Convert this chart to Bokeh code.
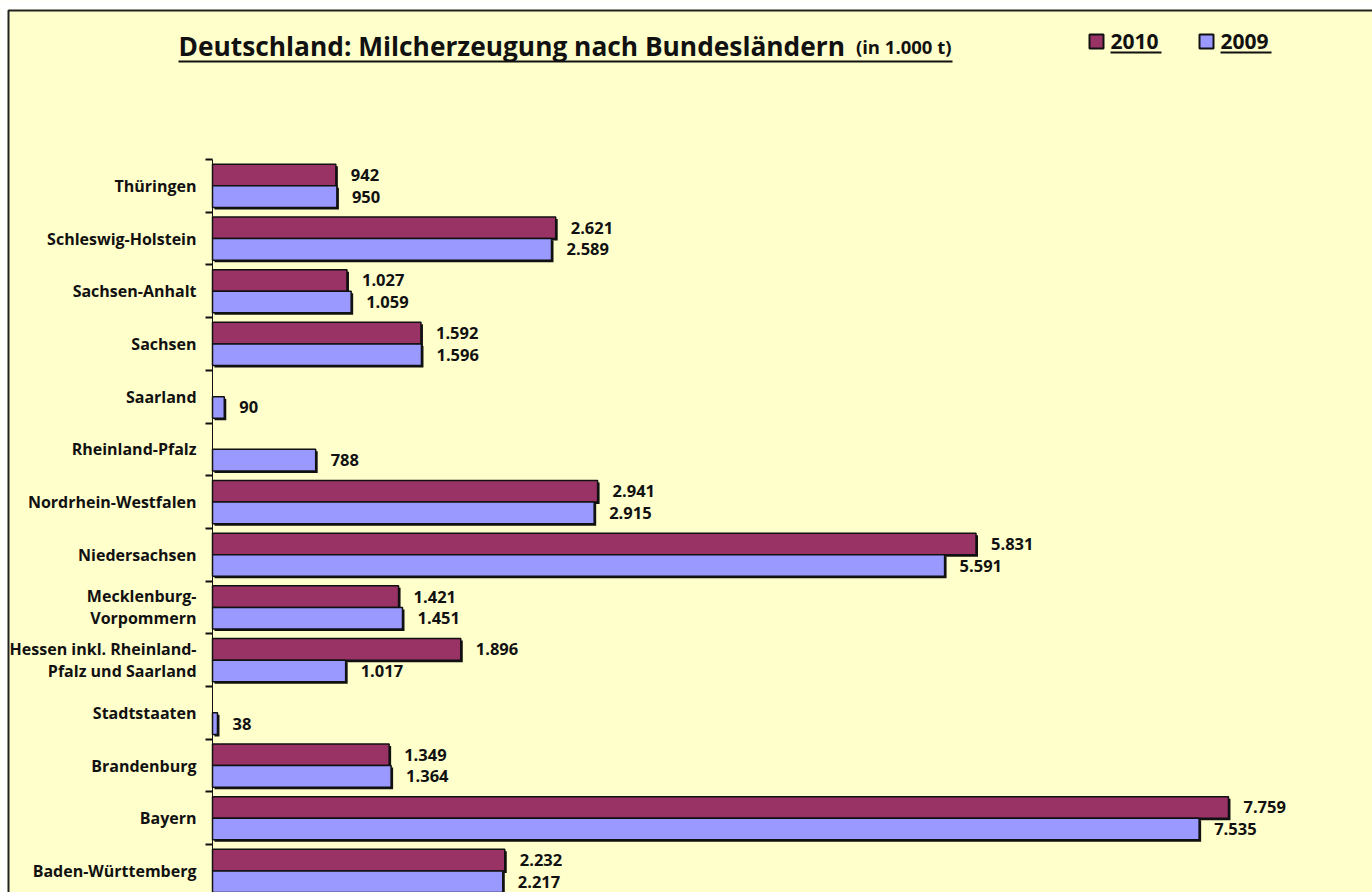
import numpy as np
from bokeh.plotting import figure
from bokeh.models import (ColumnDataSource, Range1d, LinearAxis, FixedTicker,
                          Label, BoxAnnotation)
from bokeh.core.properties import value
from bokeh.transform import dodge
from bokeh.embed import file_html
from bokeh.resources import INLINE

# ---------------- data ----------------
categories = ["Thüringen", "Schleswig-Holstein", "Sachsen-Anhalt", "Sachsen",
              "Saarland", "Rheinland-Pfalz", "Nordrhein-Westfalen",
              "Niedersachsen", "Mecklenburg-\nVorpommern",
              "Hessen inkl. Rheinland-\nPfalz und Saarland", "Stadtstaaten",
              "Brandenburg", "Bayern", "Baden-Württemberg"]
values_2010 = [942, 2621, 1027, 1592, np.nan, np.nan, 2941, 5831, 1421, 1896,
               np.nan, 1349, 7759, 2232]
values_2009 = [950, 2589, 1059, 1596, 90, 788, 2915, 5591, 1451, 1017, 38,
               1364, 7535, 2217]
series_names = ["2010", "2009"]
title_main = "Deutschland: Milcherzeugung nach Bundesländern"
title_unit = "(in 1.000 t)"

FONT = "Open Sans"
C2010 = "#993366"
C2009 = "#9999FF"
BG = "#FFFFCC"
INK = "#111111"


def de_fmt(v):
    if v is None or (isinstance(v, float) and np.isnan(v)):
        return ""
    return f"{int(v):,}".replace(",", ".")


n = len(categories)
pos = [n - 1 - i for i in range(n)]  # first category at the top

src = ColumnDataSource(dict(
    y=pos,
    v2010=values_2010,
    v2009=values_2009,
    l2010=[de_fmt(v) for v in values_2010],
    l2009=[de_fmt(v) for v in values_2009],
))

W, H = 1372, 892
AXIS_X = 212           # page x of the value-axis origin
TOP_Y = 159            # page y of the top category boundary
PX_PER_UNIT = 0.13094  # horizontal px per 1.000 t
PX_PER_CAT = 52.7

x0 = -AXIS_X / PX_PER_UNIT
x1 = (W - AXIS_X) / PX_PER_UNIT
y_top = (n - 0.5) + TOP_Y / PX_PER_CAT
y_bot = (n - 0.5) - (H - TOP_Y) / PX_PER_CAT

p = figure(width=W, height=H, x_range=Range1d(x0, x1),
           y_range=Range1d(y_bot, y_top),
           x_axis_type=None, y_axis_type=None,
           toolbar_location=None, output_backend="svg",
           min_border_left=0, min_border_right=0,
           min_border_top=0, min_border_bottom=0)
p.background_fill_color = BG
p.border_fill_color = BG
p.outline_line_color = None

bh = 0.41
off = 0.205
sh_x = 2 / PX_PER_UNIT   # 2px drop shadow
sh_y = 2 / PX_PER_CAT
for fld, dy, col in [("v2010", off, C2010), ("v2009", -off, C2009)]:
    p.hbar(y=dodge("y", dy - sh_y), left=sh_x, right=dodge(fld, sh_x),
           height=bh, source=src, fill_color="#111111", line_color=None)
    p.hbar(y=dodge("y", dy), left=0, right=fld, height=bh, source=src,
           fill_color=col, line_color="#111111", line_width=1.5)

lbl_kw = dict(text_font=value(FONT), text_font_style="bold",
              text_font_size="16.5px", text_color=INK,
              text_baseline="middle", text_align="left", x_offset=15)
p.text(x="v2010", y=dodge("y", off), text="l2010", source=src, **lbl_kw)
p.text(x="v2009", y=dodge("y", -off), text="l2009", source=src, **lbl_kw)

# category axis, fixed at value 0, ticks at category boundaries
yaxis = LinearAxis(
    fixed_location=0,
    bounds=(-0.5, n - 0.5),
    ticker=FixedTicker(ticks=pos, minor_ticks=[k - 0.5 for k in range(n + 1)]),
    major_label_overrides={pv: c for pv, c in zip(pos, categories)},
)
yaxis.axis_line_color = INK
yaxis.axis_line_width = 1
yaxis.major_tick_line_color = None
yaxis.major_tick_out = 0
yaxis.major_tick_in = 0
yaxis.minor_tick_line_color = INK
yaxis.minor_tick_line_width = 2
yaxis.minor_tick_out = 7
yaxis.minor_tick_in = 0
yaxis.major_label_standoff = 9
yaxis.major_label_text_font = FONT
yaxis.major_label_text_font_style = "bold"
yaxis.major_label_text_font_size = "16px"
yaxis.major_label_text_color = INK
yaxis.major_label_text_line_height = 1.0
p.add_layout(yaxis, "left")

# ------------- title, legend, frame (screen units: from frame bottom-left) ---


def sy(page_y):
    return H - page_y


def sx(page_x):
    return page_x


def box(l, r, t, b, **kw):
    return BoxAnnotation(left=sx(l), right=sx(r), top=sy(t), bottom=sy(b),
                         left_units="screen", right_units="screen",
                         top_units="screen", bottom_units="screen", **kw)


# white page outside the chart's frame (top and left strip)
p.add_layout(box(-5, 1400, -5, 9, fill_color="white", fill_alpha=1,
                 line_alpha=0))
p.add_layout(box(-5, 7, -5, 1000, fill_color="white", fill_alpha=1,
                 line_alpha=0))

p.add_layout(Label(x=sx(178), y=sy(45), x_units="screen", y_units="screen",
                   text=title_main, text_font=FONT, text_font_style="bold",
                   text_font_size="26.3px", text_color=INK,
                   text_baseline="alphabetic"))
p.add_layout(Label(x=sx(951), y=sy(46), x_units="screen", y_units="screen",
                   text=title_unit, text_font=FONT, text_font_style="bold",
                   text_font_size="18.5px", text_color=INK,
                   text_align="right", text_baseline="alphabetic"))
p.add_layout(box(178, 952, 60, 62, fill_color=INK, fill_alpha=1,
                 line_alpha=0))

for name, col, px in [(series_names[0], C2010, 1089),
                      (series_names[1], C2009, 1199)]:
    p.add_layout(box(px, px + 14, 34, 48, fill_color=col, fill_alpha=1,
                     line_color=INK, line_alpha=1, line_width=2))
    p.add_layout(Label(x=sx(px + 21), y=sy(41), x_units="screen",
                       y_units="screen", text=name, text_font=FONT,
                       text_font_style="bold", text_font_size="21px",
                       text_color=INK, text_baseline="alphabetic"))
    p.add_layout(box(px + 21, px + 72, 51, 53, fill_color=INK, fill_alpha=1,
                     line_alpha=0))

# outer chart border (top and left visible in the reference crop)
p.add_layout(box(8, 1500, 10, 1000, fill_alpha=0, line_color="#222",
                 line_alpha=1, line_width=2))

open("out.html", "w").write(file_html(p, INLINE))
